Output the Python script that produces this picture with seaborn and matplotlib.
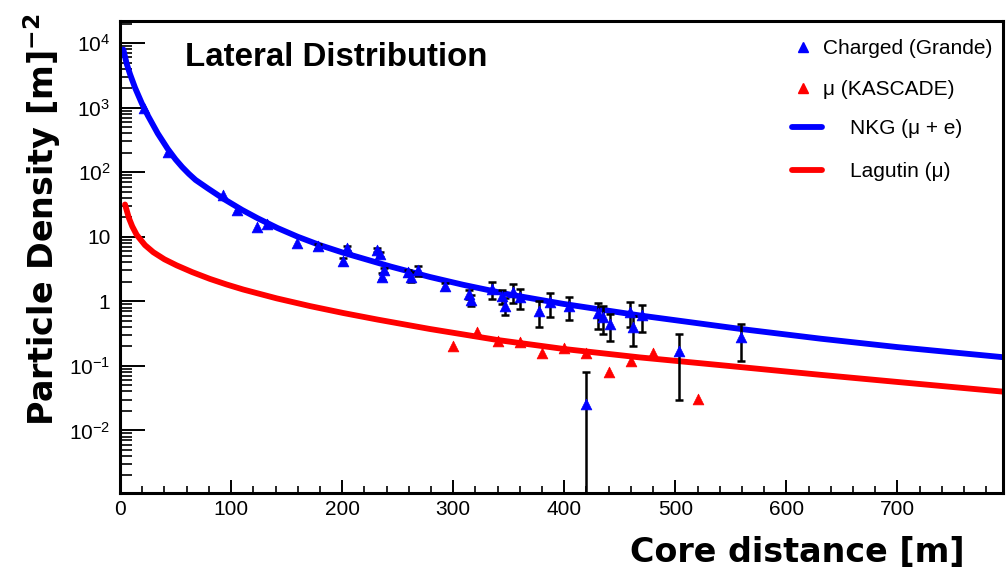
import numpy as np
import pandas as pd
import matplotlib
matplotlib.use("Agg")
import matplotlib.pyplot as plt
import seaborn as sns
from matplotlib.lines import Line2D
from matplotlib.ticker import FixedLocator, FixedFormatter, LogLocator, MultipleLocator, NullFormatter

# ---------------- data ----------------
# NKG fit (mu + e)
nkg_x = [3, 6, 9, 13.5, 19.8, 25, 34, 43, 50, 56, 62, 68, 79, 93, 110, 124, 142, 160, 180,
         201, 244, 279, 309, 350, 399, 468, 559, 631, 700, 795]
nkg_y = [7943, 4786, 3311, 2042, 1148, 759, 398, 229, 158, 120, 94.2, 75.9, 56.2, 38.9, 26.0,
         19.3, 13.6, 10.0, 7.41, 5.65, 3.44, 2.38, 1.80, 1.28, 0.912, 0.603, 0.372, 0.263,
         0.195, 0.136]

# Lagutin fit (mu)
lag_x = [4.5, 8, 11, 15, 22.5, 30, 40, 51, 65, 81, 96, 111, 141, 171, 201, 232, 279, 340, 400,
         468, 559, 631, 700, 795]
lag_y = [31.6, 19.5, 14.5, 10.7, 7.41, 5.75, 4.47, 3.60, 2.83, 2.22, 1.82, 1.52, 1.11, 0.843,
         0.658, 0.520, 0.372, 0.251, 0.182, 0.135, 0.0955, 0.0724, 0.0562, 0.0398]

# Charged particles (Grande) with errors
grande_x = [22, 43, 93, 105, 123, 132, 159, 178, 201, 204, 231, 234, 236, 238, 259, 262, 268,
            293, 314, 316, 335, 344, 347, 354, 360, 377, 387, 404, 420, 430, 435, 441,
            459, 462, 470, 503, 559]
grande_y = [1000, 208, 45, 26, 14.4, 15.5, 7.9, 7.1, 4.2, 6.7, 6.2, 5.4, 2.4, 3.0, 2.8, 2.4, 3.0,
            1.7, 1.3, 1.05, 1.53, 1.2, 0.86, 1.38, 1.15, 0.70, 0.96, 0.84, 0.026, 0.65, 0.57, 0.44,
            0.68, 0.40, 0.61, 0.17, 0.28]
grande_err = [0, 0, 0, 0, 0, 0, 0, 0.6, 0.5, 0.6, 0.5, 0.5, 0.3, 0.3, 0.3, 0.4, 0.5,
              0.2, 0.2, 0.2, 0.45, 0.3, 0.25, 0.45, 0.4, 0.3, 0.38, 0.33, 0.055, 0.28, 0.26, 0.2,
              0.28, 0.2, 0.27, 0.14, 0.16]

# Muons (KASCADE)
kascade_x = [300, 321, 340, 360, 380, 400, 420, 440, 460, 480, 520]
kascade_y = [0.20, 0.34, 0.24, 0.23, 0.16, 0.19, 0.16, 0.080, 0.118, 0.16, 0.031]

x_ticks = [0, 100, 200, 300, 400, 500, 600, 700]
x_tick_labels = ["0", "100", "200", "300", "400", "500", "600", "700"]
y_ticks = [1e-2, 1e-1, 1, 10, 1e2, 1e3, 1e4]
y_tick_labels = ["$10^{-2}$", "$10^{-1}$", "1", "10", "$10^{2}$", "$10^{3}$", "$10^{4}$"]

legend_labels = ["Charged (Grande)", "\u03bc (KASCADE)", "NKG (\u03bc + e)", "Lagutin (\u03bc)"]

# ---------------- style ----------------
sns.set_style("ticks")
plt.rcParams["font.family"] = ["Liberation Sans", "DejaVu Sans"]
plt.rcParams["mathtext.fontset"] = "custom"
plt.rcParams["mathtext.rm"] = "Liberation Sans"
plt.rcParams["mathtext.it"] = "Liberation Sans:italic"
plt.rcParams["mathtext.bf"] = "DejaVu Sans:bold"
for key in ["text.color", "axes.labelcolor", "xtick.color", "ytick.color", "axes.edgecolor"]:
    plt.rcParams[key] = "black"

BLUE = "#0000ff"
RED = "#ff0000"

fig = plt.figure(figsize=(10.06, 5.71), dpi=100)
ax = fig.add_axes([0.1193, 0.1366, 0.8777, 0.8266])

nkg = pd.DataFrame({"x": nkg_x, "y": nkg_y})
lag = pd.DataFrame({"x": lag_x, "y": lag_y})
gr = pd.DataFrame({"x": grande_x, "y": grande_y, "err": grande_err})
ka = pd.DataFrame({"x": kascade_x, "y": kascade_y})

sns.lineplot(data=nkg, x="x", y="y", ax=ax, color=BLUE, lw=4.2, zorder=2,
             solid_capstyle="round", solid_joinstyle="round", estimator=None, sort=True)
sns.lineplot(data=lag, x="x", y="y", ax=ax, color=RED, lw=4.2, zorder=2,
             solid_capstyle="round", solid_joinstyle="round", estimator=None, sort=True)

eb = gr[gr["err"] > 0]
ax.errorbar(eb["x"], eb["y"], yerr=eb["err"], fmt="none", ecolor="black",
            elinewidth=1.8, capsize=3, capthick=1.8, zorder=3)

sns.scatterplot(data=gr, x="x", y="y", ax=ax, marker="^", s=60, color=BLUE,
                edgecolor=BLUE, linewidth=0.5, zorder=4)
sns.scatterplot(data=ka, x="x", y="y", ax=ax, marker="^", s=60, color=RED,
                edgecolor=RED, linewidth=0.5, zorder=4)

ax.set_yscale("log")
ax.set_xlim(0, 795)
ax.set_ylim(1.07e-3, 2.2e4)

ax.xaxis.set_major_locator(FixedLocator(x_ticks))
ax.xaxis.set_major_formatter(FixedFormatter(x_tick_labels))
ax.xaxis.set_minor_locator(MultipleLocator(20))
ax.yaxis.set_major_locator(FixedLocator(y_ticks))
ax.yaxis.set_major_formatter(FixedFormatter(y_tick_labels))
ax.yaxis.set_minor_locator(LogLocator(base=10, subs=np.arange(2, 10), numticks=20))
ax.yaxis.set_minor_formatter(NullFormatter())

ax.tick_params(axis="x", which="major", direction="in", length=9.5, width=1.4,
               labelsize=15, pad=5, top=False)
ax.tick_params(axis="x", which="minor", direction="in", length=5, width=1.2, top=False)
ax.tick_params(axis="y", which="major", direction="in", length=18, width=1.4,
               labelsize=15, pad=7, right=False)
ax.tick_params(axis="y", which="minor", direction="in", length=8.5, width=1.2, right=False)

for side in ["left", "top", "bottom", "right"]:
    ax.spines[side].set_linewidth(2.2)
    ax.spines[side].set_color("black")

ax.set_xlabel("")
ax.set_ylabel("")

ax.text(0.074, 0.922, "Lateral Distribution", transform=ax.transAxes,
        fontsize=23.8, fontweight="bold", ha="left", va="center",
        family=["Liberation Sans", "DejaVu Sans"])

# legends
h1 = [Line2D([], [], ls="none", marker="^", ms=7.5, color=BLUE),
      Line2D([], [], ls="none", marker="^", ms=7.5, color=RED)]
leg1 = ax.legend(h1, legend_labels[:2], loc="upper left", bbox_to_anchor=(0.762, 0.961),
                 frameon=False, fontsize=15, handlelength=1.0, handletextpad=0.45,
                 labelspacing=1.04, borderpad=0, borderaxespad=0)
ax.add_artist(leg1)
h2 = [Line2D([], [], color=BLUE, lw=4.2), Line2D([], [], color=RED, lw=4.2)]
ax.legend(h2, legend_labels[2:], loc="upper left", bbox_to_anchor=(0.761, 0.792),
          frameon=False, fontsize=15, handlelength=1.45, handletextpad=1.35,
          labelspacing=1.15, borderpad=0, borderaxespad=0)

fig.text(0.042, 0.615, r"Particle Density [m]$^{\mathbf{-2}}$", rotation=90,
         ha="center", va="center", fontsize=24, fontweight="bold", family="DejaVu Sans")
fig.text(0.959, 0.032, "Core distance [m]", ha="right", va="center",
         fontsize=24, fontweight="bold", family="DejaVu Sans")

fig.savefig("out.png", dpi=100)
